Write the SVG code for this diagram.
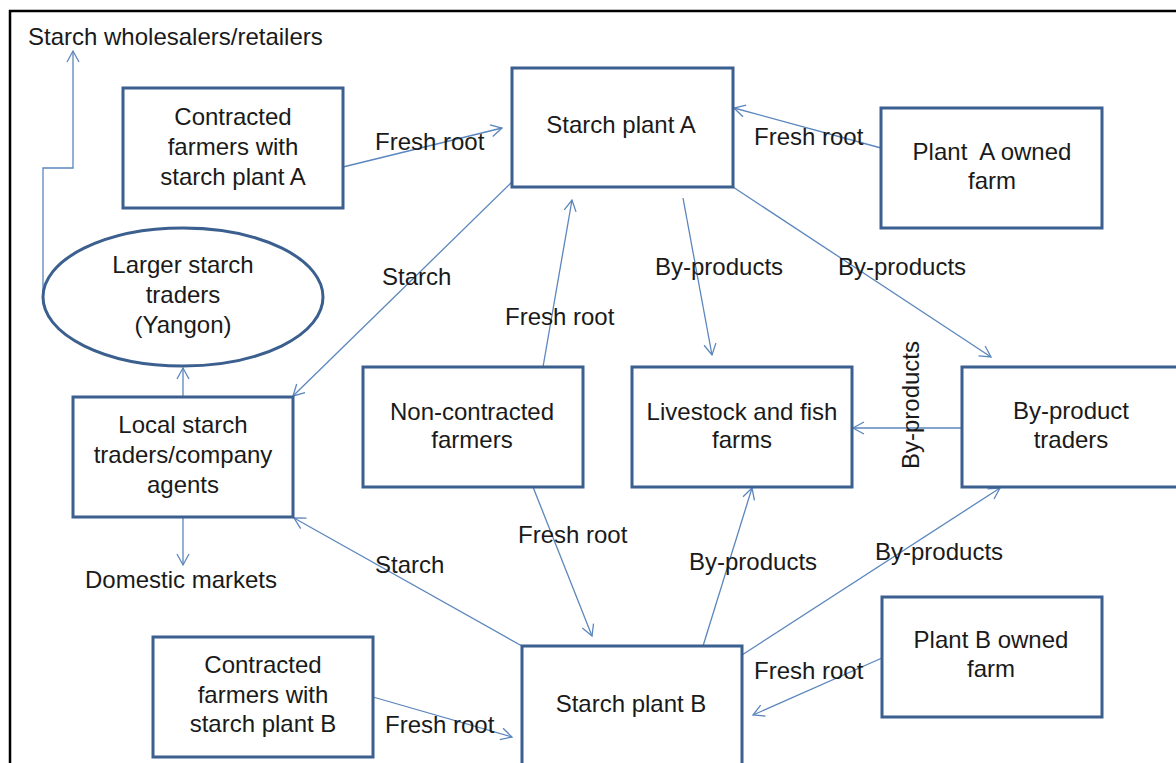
<svg xmlns="http://www.w3.org/2000/svg" width="1176" height="763" viewBox="0 0 1176 763">
<style>
.box{fill:#fff;stroke:#3b5f8f;stroke-width:3}
.t{font-family:"Liberation Sans",Arial,sans-serif;font-size:24px;fill:#1a1a1a;text-anchor:middle}
.l{font-family:"Liberation Sans",Arial,sans-serif;font-size:24px;fill:#1a1a1a}
.c{fill:none;stroke:#5b86bd;stroke-width:1.3;marker-end:url(#ah)}
</style>
<defs>
<marker id="ah" markerUnits="userSpaceOnUse" markerWidth="14" markerHeight="14" viewBox="0 0 14 14" refX="12" refY="7" orient="auto">
<path d="M1,1 L12,7 L1,13" fill="none" stroke="#5b86bd" stroke-width="1.3"/>
</marker>
</defs>
<rect width="1176" height="763" fill="#fff"/>
<path d="M10,763 V11 H1176" fill="none" stroke="#000" stroke-width="2.5"/>

<g id="connectors">
<line class="c" x1="343" y1="167" x2="502" y2="128"/>
<line class="c" x1="881" y1="148" x2="734" y2="108"/>
<line class="c" x1="512" y1="182" x2="293" y2="396"/>
<line class="c" x1="543" y1="367" x2="572" y2="200"/>
<line class="c" x1="683" y1="198" x2="712" y2="355"/>
<line class="c" x1="733" y1="187" x2="991" y2="357"/>
<line class="c" x1="962" y1="428" x2="853" y2="428"/>
<line class="c" x1="183" y1="397" x2="183" y2="368"/>
<line class="c" x1="183" y1="518" x2="183" y2="565"/>
<path class="c" d="M43,297 V168 H73 V51"/>
<line class="c" x1="522" y1="646" x2="294" y2="518"/>
<line class="c" x1="533" y1="487" x2="592" y2="636"/>
<line class="c" x1="703" y1="646" x2="752" y2="488"/>
<line class="c" x1="742" y1="655" x2="1000" y2="488"/>
<line class="c" x1="882" y1="658" x2="753" y2="715"/>
<line class="c" x1="373" y1="697" x2="512" y2="737"/>
</g>

<g id="labels">
<text class="l" x="28" y="45">Starch wholesalers/retailers</text>
<text class="l" x="375" y="150">Fresh root</text>
<text class="l" x="754" y="145">Fresh root</text>
<text class="l" x="382" y="285">Starch</text>
<text class="l" x="505" y="325">Fresh root</text>
<text class="l" x="655" y="275">By-products</text>
<text class="l" x="838" y="275">By-products</text>
<text class="t" transform="translate(919,405) rotate(-90)">By-products</text>
<text class="l" x="518" y="543">Fresh root</text>
<text class="l" x="375" y="573">Starch</text>
<text class="l" x="689" y="570">By-products</text>
<text class="l" x="875" y="560">By-products</text>
<text class="l" x="754" y="679">Fresh root</text>
<text class="l" x="385" y="733">Fresh root</text>
<text class="t" x="181" y="588">Domestic markets</text>
</g>

<g id="contracted-a">
<rect class="box" x="123" y="88" width="220" height="120"/>
<text class="t" x="233" y="125">Contracted</text>
<text class="t" x="233" y="155">farmers with</text>
<text class="t" x="233" y="185">starch plant A</text>
</g>
<g id="plant-a">
<rect class="box" x="512" y="68" width="221" height="119"/>
<text class="t" x="621" y="133">Starch plant A</text>
</g>
<g id="plant-a-farm">
<rect class="box" x="881" y="108" width="221" height="120"/>
<text class="t" x="992" y="160" xml:space="preserve">Plant  A owned</text>
<text class="t" x="992" y="189">farm</text>
</g>
<g id="larger-traders">
<ellipse cx="183" cy="297" rx="140" ry="69" fill="#fff" stroke="#3b5f8f" stroke-width="3"/>
<text class="t" x="183" y="273">Larger starch</text>
<text class="t" x="183" y="303">traders</text>
<text class="t" x="183" y="333">(Yangon)</text>
</g>
<g id="local-traders">
<rect class="box" x="73" y="397" width="220" height="120"/>
<text class="t" x="183" y="433">Local starch</text>
<text class="t" x="183" y="463">traders/company</text>
<text class="t" x="183" y="493">agents</text>
</g>
<g id="non-contracted">
<rect class="box" x="363" y="367" width="220" height="120"/>
<text class="t" x="472" y="420">Non-contracted</text>
<text class="t" x="472" y="448">farmers</text>
</g>
<g id="livestock">
<rect class="box" x="632" y="367" width="220" height="120"/>
<text class="t" x="742" y="420">Livestock and fish</text>
<text class="t" x="742" y="448">farms</text>
</g>
<g id="byproduct-traders">
<rect class="box" x="962" y="367" width="222" height="120"/>
<text class="t" x="1071" y="419">By-product</text>
<text class="t" x="1071" y="448">traders</text>
</g>
<g id="plant-b">
<rect class="box" x="522" y="646" width="220" height="130"/>
<text class="t" x="631" y="712">Starch plant B</text>
</g>
<g id="contracted-b">
<rect class="box" x="153" y="637" width="220" height="120"/>
<text class="t" x="263" y="673">Contracted</text>
<text class="t" x="263" y="703">farmers with</text>
<text class="t" x="263" y="732">starch plant B</text>
</g>
<g id="plant-b-farm">
<rect class="box" x="882" y="597" width="220" height="120"/>
<text class="t" x="991" y="648">Plant B owned</text>
<text class="t" x="991" y="677">farm</text>
</g>
</svg>
